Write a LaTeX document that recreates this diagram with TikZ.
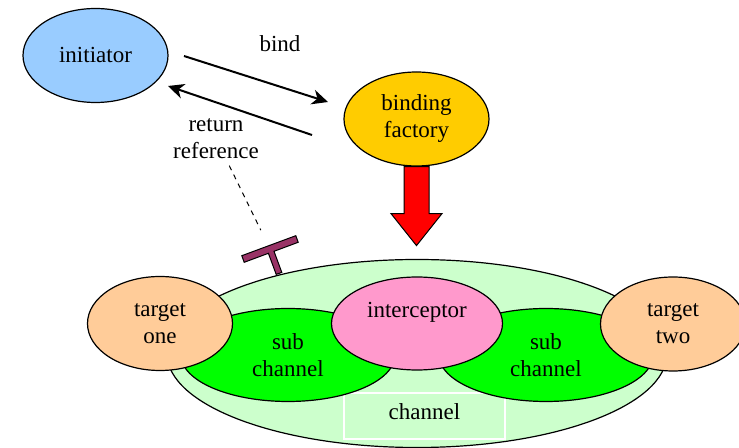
\documentclass[tikz,border=0pt]{standalone}
\usepackage{fontspec}
\setmainfont{Liberation Serif}
\usetikzlibrary{shapes.geometric,arrows.meta}
\definecolor{initblue}{HTML}{99CCFF}
\definecolor{factorygold}{HTML}{FFCC00}
\definecolor{targetpeach}{HTML}{FFCC99}
\definecolor{interpink}{HTML}{FF99CC}
\definecolor{subgreen}{HTML}{00FF00}
\definecolor{chanmint}{HTML}{CCFFCC}
\definecolor{handleplum}{HTML}{993366}
\tikzset{>=latex}
\tikzstyle{blob}   = [ellipse,
                      draw,
                      line width=0.6pt,
                      inner sep=0pt,
                      align=center]
\tikzstyle{small}  = [blob,
                      minimum width=72.5pt,
                      minimum height=47pt]
\tikzstyle{sub}    = [blob,
                      fill=subgreen,
                      minimum width=107pt,
                      minimum height=46.5pt]
\tikzstyle{arrow}  = [-{Stealth[length=8pt,width=7.5pt,inset=2.5pt]},
                      line width=1pt]
\tikzstyle{lbl}    = [align=center]

\begin{document}
\begin{tikzpicture}[x=0.5pt,y=-0.5pt,
    every node/.style={font=\fontsize{11.5}{13.5}\selectfont}]
  \useasboundingbox (0,0) rectangle (739,448);

  % Nodes
  \node[small, fill=initblue] (init) at (95.5,55.5) {initiator};
  \node[small, fill=factorygold] (factory) at (416.5,119) {binding\\factory};
  \node[lbl] (bindlbl) at (280,44) {bind};
  \node[lbl] (retlbl) at (216,138.5) {return\\reference};

  \coordinate (bind-s) at (184,56);
  \coordinate (bind-e) at (328,102);
  \coordinate (ret-s) at (312,135);
  \coordinate (ret-e) at (168,86);
  \coordinate (handle) at (270,249);

  % Channel
  \node[blob, fill=chanmint, minimum width=250pt, minimum height=94pt]
    (chan) at (417,353.5) {};
  \node[draw=white, line width=0.6pt, minimum width=80.5pt,
    minimum height=23pt, text depth=4pt] (chanlbl) at (424.5,416) {channel};
  \node[sub] (subl) at (288,355) {sub\\channel};
  \node[sub] (subr) at (546,355) {sub\\channel};
  \node[blob, fill=interpink, minimum width=85.5pt, minimum height=46.5pt]
    (inter) at (417,323.5) {interceptor\\\mbox{}};
  \node[small, fill=targetpeach] (tone) at (160,323.5) {target\\one};
  \node[small, fill=targetpeach] (ttwo) at (673,324) {target\\two};

  % Edges
  \draw[arrow] (bind-s) -- (bind-e);
  \draw[arrow] (ret-s) -- (ret-e);
  \draw[dashed, line width=0.5pt, dash pattern=on 2.5pt off 2.5pt,
    shorten >=10.5pt] (retlbl) -- (handle);
  \draw[fill=red, line width=0.5pt] (factory.south) ++(-12.5,0) -- ++(25,0)
    -- ++(0,47) -- ++(13,0) -- ++(-25.5,32) -- ++(-25.5,-32) -- ++(13,0)
    -- cycle;

  % Handle
  \draw[fill=handleplum, line width=0.5pt]
    (241.8,255.7) -- (295.8,235.7) -- (298.2,242.3) -- (274.0,251.3)
    -- (281.8,272.4) -- (276.2,274.4) -- (268.4,253.3) -- (244.2,262.3)
    -- cycle;

\end{tikzpicture}
\end{document}
